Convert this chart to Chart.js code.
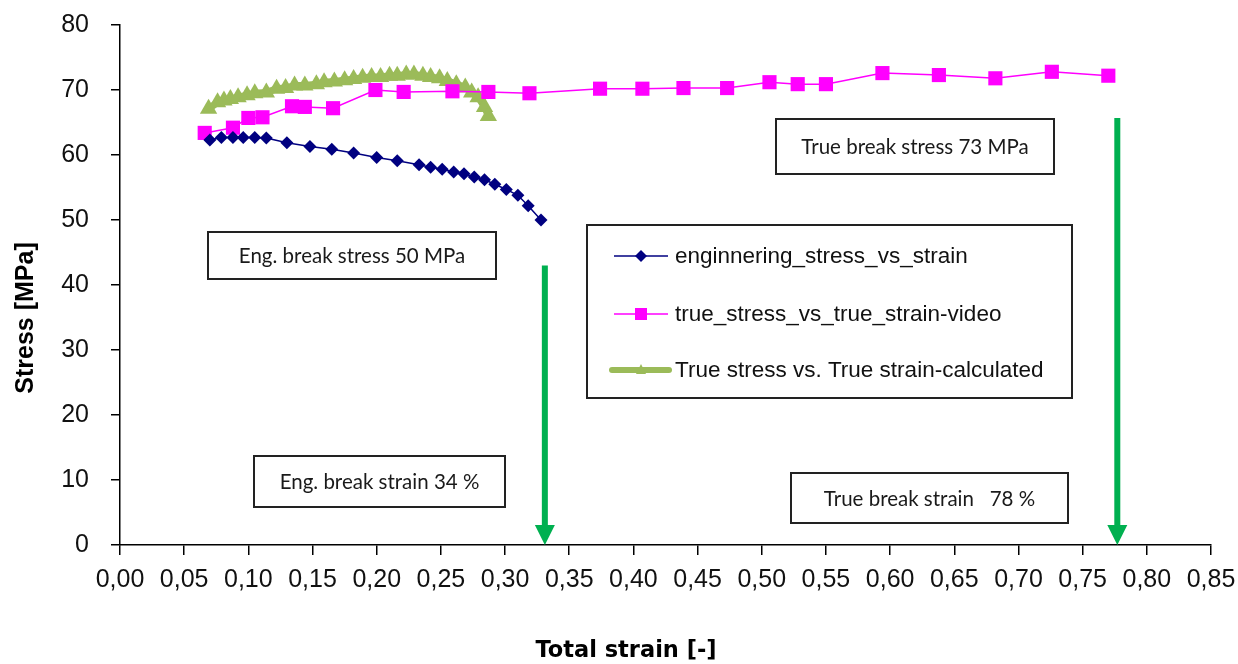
<!DOCTYPE html>
<html>
<head>
<meta charset="utf-8">
<script src="https://cdn.jsdelivr.net/npm/chart.js@4.4.0/dist/chart.umd.min.js"></script>
<style>
  html, body { margin: 0; padding: 0; background: #fff; }
</style>
</head>
<body>
<canvas id="stressChart" width="1238" height="664"></canvas>
<script>
// values
const engStrain = [0.070, 0.079, 0.088, 0.096, 0.105, 0.114, 0.130, 0.148, 0.165, 0.182, 0.200, 0.216,
                   0.233, 0.242, 0.251, 0.260, 0.268, 0.276, 0.284, 0.292, 0.301, 0.310, 0.318, 0.328];
const engStress = [62.3, 62.7, 62.7, 62.7, 62.7, 62.6, 61.9, 61.3, 60.9, 60.3, 59.6, 59.1,
                   58.5, 58.1, 57.8, 57.4, 57.1, 56.6, 56.2, 55.5, 54.7, 53.8, 52.2, 50.0];

const videoStrain = [0.066, 0.088, 0.100, 0.111, 0.134, 0.144, 0.166, 0.199, 0.221, 0.259, 0.287, 0.319,
                     0.374, 0.407, 0.439, 0.473, 0.506, 0.528, 0.550, 0.594, 0.638, 0.682, 0.726, 0.770];
const videoStress = [63.4, 64.2, 65.7, 65.8, 67.5, 67.4, 67.2, 70.0, 69.7, 69.8, 69.7, 69.5,
                     70.2, 70.2, 70.3, 70.3, 71.2, 70.9, 70.9, 72.6, 72.3, 71.8, 72.8, 72.2];

const calcStrain = [0.069, 0.076, 0.081, 0.086, 0.092, 0.099, 0.105, 0.114, 0.122, 0.129, 0.136, 0.144,
                    0.153, 0.159, 0.167, 0.175, 0.182, 0.189, 0.196, 0.203, 0.210, 0.216, 0.223, 0.229,
                    0.236, 0.242, 0.249, 0.255, 0.262, 0.269, 0.274, 0.279, 0.284, 0.287];
const calcStress = [67.1, 68.1, 68.4, 68.6, 68.9, 69.2, 69.5, 69.6, 70.2, 70.3, 70.7, 70.7,
                    70.9, 71.2, 71.3, 71.5, 71.7, 71.9, 72.0, 72.0, 72.2, 72.2, 72.4, 72.4,
                    72.2, 72.0, 71.8, 71.4, 70.9, 70.4, 69.6, 68.9, 67.4, 66.0];

const seriesNames = ['enginnering_stress_vs_strain', 'true_stress_vs_true_strain-video', 'True stress vs. True strain-calculated'];
const noteTexts = ['True break stress 73 MPa', 'Eng. break stress 50 MPa', 'Eng. break strain 34 %', 'True break strain   78 %'];
const breakStrain = [0.331, 0.777];   // arrows
const arrowFrom = [43.0, 65.7];

const navy = '#000080', magenta = '#FF00FF', olive = '#9BBB59', arrowGreen = '#00B050';

function pairs(xs, ys) {
    return xs.map(function(x, i) { return { x: x, y: ys[i] }; });
}

// boxes in canvas pixels: [left, top, right, bottom]
const noteBoxes = [[776, 119, 1054, 174], [208, 232, 496, 279], [254, 456, 505, 507], [791, 473, 1068, 523]];

let overlay = {
    id: 'overlay',
    afterDatasetsDraw(chart) {
        let ctx = chart.ctx;
        let xs = chart.scales.x, ys = chart.scales.y;
        ctx.save();

        // green arrows
        breakStrain.forEach(function(s, i) {
            let x = xs.getPixelForValue(s);
            let top = ys.getPixelForValue(arrowFrom[i]);
            let bottom = ys.getPixelForValue(0);
            ctx.strokeStyle = arrowGreen;
            ctx.fillStyle = arrowGreen;
            ctx.lineWidth = 6;
            ctx.beginPath();
            ctx.moveTo(x, top);
            ctx.lineTo(x, bottom - 18);
            ctx.stroke();
            ctx.beginPath();
            ctx.moveTo(x - 10, bottom - 20);
            ctx.lineTo(x + 10, bottom - 20);
            ctx.lineTo(x, bottom);
            ctx.closePath();
            ctx.fill();
        });

        // text boxes
        ctx.font = '20.5px Lato';
        ctx.textAlign = 'center';
        ctx.textBaseline = 'middle';
        noteBoxes.forEach(function(b, i) {
            ctx.fillStyle = '#fff';
            ctx.fillRect(b[0], b[1], b[2] - b[0], b[3] - b[1]);
            ctx.strokeStyle = '#222';
            ctx.lineWidth = 2;
            ctx.strokeRect(b[0], b[1], b[2] - b[0], b[3] - b[1]);
            ctx.fillStyle = '#1a1a1a';
            ctx.fillText(noteTexts[i], (b[0] + b[2]) / 2, (b[1] + b[3]) / 2 + 1);
        });

        // legend
        ctx.fillStyle = '#fff';
        ctx.fillRect(587, 225, 485, 173);
        ctx.strokeStyle = '#222';
        ctx.lineWidth = 2;
        ctx.strokeRect(587, 225, 485, 173);
        let rows = [256, 314, 370];
        ctx.textAlign = 'left';
        ctx.font = '22.5px "Liberation Sans", Arial';
        rows.forEach(function(y, i) {
            ctx.beginPath();
            if (i === 0) {
                ctx.strokeStyle = navy; ctx.lineWidth = 1.5;
                ctx.moveTo(614, y); ctx.lineTo(668, y); ctx.stroke();
                ctx.fillStyle = navy;
                ctx.beginPath();
                ctx.moveTo(641, y - 6); ctx.lineTo(647, y); ctx.lineTo(641, y + 6); ctx.lineTo(635, y);
                ctx.closePath(); ctx.fill();
            } else if (i === 1) {
                ctx.strokeStyle = magenta; ctx.lineWidth = 1.5;
                ctx.moveTo(614, y); ctx.lineTo(668, y); ctx.stroke();
                ctx.fillStyle = magenta;
                ctx.fillRect(635, y - 6, 12, 12);
            } else {
                ctx.strokeStyle = olive; ctx.lineWidth = 6; ctx.lineCap = 'round';
                ctx.moveTo(612, y); ctx.lineTo(669, y); ctx.stroke();
                ctx.lineCap = 'butt';
                ctx.fillStyle = olive;
                ctx.beginPath();
                ctx.moveTo(641, y - 6); ctx.lineTo(646, y + 4); ctx.lineTo(636, y + 4);
                ctx.closePath(); ctx.fill();
            }
            ctx.fillStyle = '#111';
            ctx.fillText(seriesNames[i], 675, y + 1);
        });

        // axis titles
        ctx.fillStyle = '#000';
        ctx.textAlign = 'center';
        ctx.font = 'bold 22.5px "DejaVu Sans"';
        ctx.fillText('Total strain [-]', 626, 651);
        ctx.save();
        ctx.translate(26, 318);
        ctx.rotate(-Math.PI / 2);
        ctx.font = 'bold 25px "Liberation Sans", Arial';
        ctx.fillText('Stress [MPa]', 0, 0);
        ctx.restore();

        ctx.restore();
    }
};

document.addEventListener('DOMContentLoaded', function() {
    let ctx = document.getElementById('stressChart').getContext('2d');
    let tickFont = { family: '"Liberation Sans", Arial', size: 25 };

    let chart = new Chart(ctx, {
        type: 'scatter',
        data: {
            datasets: [{
                label: seriesNames[0],
                data: pairs(engStrain, engStress),
                showLine: true,
                borderColor: navy,
                backgroundColor: navy,
                borderWidth: 1.5,
                pointStyle: 'rectRot',
                pointRadius: 6.5,
                pointBorderWidth: 0
            }, {
                label: seriesNames[1],
                data: pairs(videoStrain, videoStress),
                showLine: true,
                borderColor: magenta,
                backgroundColor: magenta,
                borderWidth: 1.5,
                pointStyle: 'rect',
                pointRadius: 10,
                pointBorderWidth: 0
            }, {
                label: seriesNames[2],
                data: pairs(calcStrain, calcStress),
                showLine: true,
                borderColor: olive,
                backgroundColor: olive,
                borderWidth: 7,
                pointStyle: 'triangle',
                pointRadius: 10,
                pointBorderWidth: 0
            }]
        },
        options: {
            responsive: false,
            animation: false,
            devicePixelRatio: 1,
            layout: { padding: { left: 0, right: 27, top: 25, bottom: 0 } },
            plugins: {
                legend: { display: false },
                tooltip: { enabled: false }
            },
            scales: {
                x: {
                    type: 'linear',
                    min: 0,
                    max: 0.85,
                    afterFit: function(scale) {
                        scale.height = 119;
                        scale.paddingLeft = 0;
                        scale.paddingRight = 0;
                    },
                    border: { display: true, color: '#000', width: 1.5 },
                    grid: { drawOnChartArea: false, drawTicks: true, tickLength: 10, color: '#000', lineWidth: 1.5 },
                    ticks: {
                        stepSize: 0.05,
                        padding: 10,
                        color: '#111',
                        font: tickFont,
                        maxRotation: 0,
                        autoSkip: false,
                        callback: function(v) { return v.toFixed(2).replace('.', ','); }
                    }
                },
                y: {
                    min: 0,
                    max: 80,
                    afterFit: function(scale) {
                        scale.width = 120;
                        scale.paddingTop = 0;
                        scale.paddingBottom = 0;
                    },
                    border: { display: true, color: '#000', width: 1.5 },
                    grid: { drawOnChartArea: false, drawTicks: true, tickLength: 9, color: '#000', lineWidth: 1.5 },
                    ticks: {
                        stepSize: 10,
                        padding: 22,
                        color: '#111',
                        font: tickFont
                    }
                }
            }
        },
        plugins: [overlay]
    });
});
</script>
</body>
</html>
